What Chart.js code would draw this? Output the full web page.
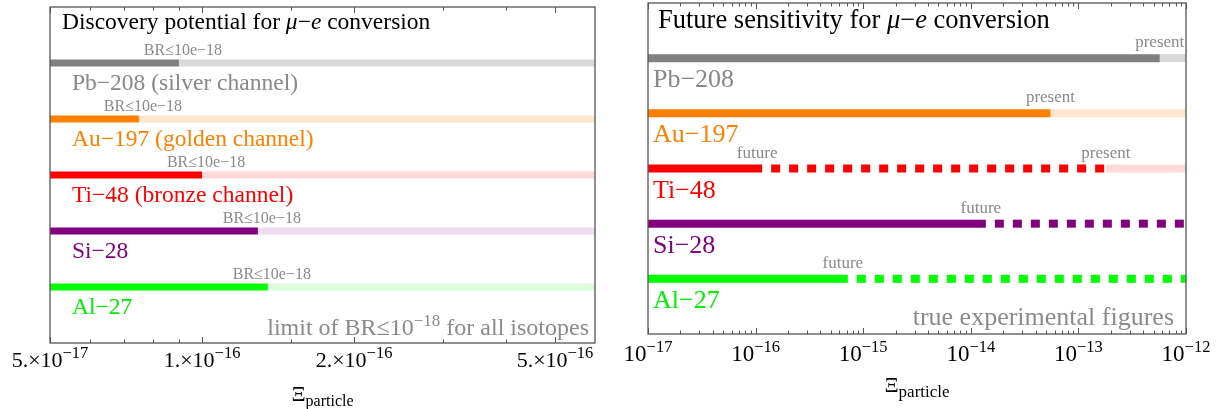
<!DOCTYPE html>
<html>
<head>
<meta charset="utf-8">
<script src="https://cdn.jsdelivr.net/npm/chart.js@4.4.1/dist/chart.umd.min.js"></script>
<style>
  body { margin: 0; background: #fff; }
  .panel { position: absolute; top: 0; width: 612px; height: 409px; }
</style>
</head>
<body>
<div class="panel" style="left:0"><canvas id="leftChart" width="612" height="409"></canvas></div>
<div class="panel" style="left:612px"><canvas id="rightChart" width="612" height="409"></canvas></div>
<script>
const isotopes = ["Pb−208", "Au−197", "Ti−48", "Si−28", "Al−27"];
const channels = [" (silver channel)", " (golden channel)", " (bronze channel)", "", ""];
const rows = [1, 2, 3, 4, 5];
const darkColors = ["#808080", "#ff8000", "#ff0000", "#800080", "#00ff00"];
const lightColors = ["#d9d9d9", "#ffe6cc", "#ffd9d9", "#f0dcf0", "#ddfcdd"];
const labelColors = ["#888888", "#ff8000", "#ff0000", "#800080", "#00ee00"];

// left panel: discovery potential for BR <= 1e-18
const discovery = [9.0e-17, 7.5e-17, 1.0e-16, 1.29e-16, 1.35e-16];
const leftRange = [5e-17, 6e-16];
const leftTicks = [5e-17, 1e-16, 2e-16, 5e-16];
const leftTickMantissa = ["5.×10", "1.×10", "2.×10", "5.×10"];
const leftTickExp = ["−17", "−16", "−16", "−16"];
const leftMinor = [6e-17, 7e-17, 8e-17, 9e-17, 1.5e-16, 3e-16, 4e-16];

// right panel: present limits and future sensitivity
const presentLimit = [5.7e-13, 5.5e-14, 1.8e-13, null, null];
const futureLimit = [null, null, 1.15e-16, 1.38e-14, 7.2e-16];
const rightRange = [1e-17, 1e-12];
const rightTicks = [1e-17, 1e-16, 1e-15, 1e-14, 1e-13, 1e-12];
const rightTickExp = ["−17", "−16", "−15", "−14", "−13", "−12"];
const minorMantissa = [2, 3, 4, 5, 6, 7, 8, 9];
const rightMinor = rightTicks.slice(0, -1).flatMap(d => minorMantissa.map(m => m * d));

const serif = '"Liberation Serif", "Times New Roman", serif';
const font = (size, style) => (style || "") + " " + size + "px " + serif;
const gray = "#8a8a8a";

function seg(x0, x1, row, color, width, dashed, order) {
  return {
    data: [{x: x0, y: row}, {x: x1, y: row}],
    borderColor: color,
    borderWidth: width,
    borderDash: dashed ? [9, 9] : [],
    borderDashOffset: dashed ? 9 : 0,
    borderCapStyle: "butt",
    pointRadius: 0,
    tension: 0,
    fill: false,
    order: order
  };
}

function drawRuns(ctx, runs, x, y, align) {
  let w = 0;
  runs.forEach(r => { ctx.font = r.font; w += ctx.measureText(r.text).width; });
  let cx = align === "center" ? x - w / 2 : align === "right" ? x - w : x;
  ctx.textAlign = "left";
  ctx.textBaseline = "alphabetic";
  runs.forEach(r => {
    ctx.font = r.font;
    ctx.fillStyle = r.color || "#000";
    ctx.fillText(r.text, cx, y - (r.rise || 0));
    cx += ctx.measureText(r.text).width;
  });
}

function drawFrame(chart, major, minor) {
  const {ctx, chartArea: a, scales: {x}} = chart;
  ctx.save();
  ctx.strokeStyle = "#555";
  ctx.lineWidth = 1.3;
  ctx.strokeRect(a.left, a.top, a.right - a.left, a.bottom - a.top);
  ctx.lineWidth = 1;
  [[major, 6], [minor, 3.5]].forEach(([vals, len]) => {
    vals.forEach(v => {
      const px = Math.round(x.getPixelForValue(v)) + 0.5;
      ctx.beginPath();
      ctx.moveTo(px, a.bottom);
      ctx.lineTo(px, a.bottom - len);
      ctx.moveTo(px, a.top);
      ctx.lineTo(px, a.top + len);
      ctx.stroke();
    });
  });
  ctx.restore();
}

function titleRuns(first, size) {
  return [
    {text: first, font: font(size)},
    {text: "μ", font: font(size, "italic")},
    {text: "−", font: font(size)},
    {text: "e", font: font(size, "italic")},
    {text: " conversion", font: font(size)}
  ];
}

function axisTitle(ctx, cx, y, size, subSize) {
  drawRuns(ctx, [
    {text: "Ξ", font: font(size)},
    {text: "particle", font: font(subSize), rise: -5}
  ], cx, y, "center");
}

const leftDecor = {
  id: "leftDecor",
  afterDraw(chart) {
    const {ctx, chartArea: a, scales: {x, y}} = chart;
    drawFrame(chart, leftTicks, leftMinor);
    ctx.save();
    drawRuns(ctx, titleRuns("Discovery potential for ", 23.5), a.left + 12, 29, "left");
    rows.forEach((r, i) => {
      const py = y.getPixelForValue(r);
      drawRuns(ctx, [{text: "BR≤10e−18", font: font(16), color: gray}],
        x.getPixelForValue(discovery[i]) + 4, py - 8.5, "center");
      drawRuns(ctx, [{text: isotopes[i] + channels[i], font: font(23.5), color: labelColors[i]}],
        a.left + 22, py + 26.5, "left");
    });
    drawRuns(ctx, [
      {text: "limit of BR≤10", font: font(24), color: gray},
      {text: "−18", font: font(17), color: gray, rise: 9},
      {text: " for all isotopes", font: font(24), color: gray}
    ], a.right - 6, 335, "right");
    leftTicks.forEach((v, i) => {
      drawRuns(ctx, [
        {text: leftTickMantissa[i], font: font(22)},
        {text: leftTickExp[i], font: font(16.5), rise: 9}
      ], x.getPixelForValue(v), 367, "center");
    });
    axisTitle(ctx, (a.left + a.right) / 2, 401, 22, 16);
    ctx.restore();
  }
};

const rightDecor = {
  id: "rightDecor",
  afterDraw(chart) {
    const {ctx, chartArea: a, scales: {x, y}} = chart;
    drawFrame(chart, rightTicks, rightMinor);
    ctx.save();
    drawRuns(ctx, titleRuns("Future sensitivity for ", 26.5), a.left + 10, 28, "left");
    rows.forEach((r, i) => {
      const py = y.getPixelForValue(r);
      if (presentLimit[i] !== null) {
        drawRuns(ctx, [{text: "present", font: font(17), color: gray}],
          x.getPixelForValue(presentLimit[i]), py - 11, "center");
      }
      if (futureLimit[i] !== null) {
        drawRuns(ctx, [{text: "future", font: font(17), color: gray}],
          x.getPixelForValue(futureLimit[i]) - 5, py - 11, "center");
      }
      drawRuns(ctx, [{text: isotopes[i], font: font(26), color: labelColors[i]}],
        a.left + 5, py + 29, "left");
    });
    drawRuns(ctx, [{text: "true experimental figures", font: font(26), color: gray}],
      a.right - 12, 325, "right");
    rightTicks.forEach((v, i) => {
      drawRuns(ctx, [
        {text: "10", font: font(23)},
        {text: rightTickExp[i], font: font(16.5), rise: 9}
      ], x.getPixelForValue(v), 361, "center");
    });
    axisTitle(ctx, (a.left + a.right) / 2, 392, 22, 17);
    ctx.restore();
  }
};

function baseOptions(range, padding) {
  return {
    responsive: false,
    animation: false,
    events: [],
    layout: {padding: padding},
    scales: {
      x: {type: "logarithmic", min: range[0], max: range[1], display: false},
      y: {type: "linear", min: 0, max: 6, reverse: true, display: false}
    },
    plugins: {legend: {display: false}, tooltip: {enabled: false}}
  };
}

// left chart: light bar up to the axis end, dark bar up to the discovery reach
const leftSets = [];
rows.forEach((r, i) => {
  leftSets.push(seg(discovery[i], leftRange[1], r, lightColors[i], 7, false, 2));
  leftSets.push(seg(leftRange[0], discovery[i], r, darkColors[i], 7, false, 1));
});

new Chart(document.getElementById("leftChart"), {
  type: "line",
  data: {datasets: leftSets},
  options: baseOptions(leftRange, {left: 50, right: 17, top: 7, bottom: 66}),
  plugins: [leftDecor]
});

// right chart: solid to present/future, dotted from future to present (or axis end)
const rightSets = [];
rows.forEach((r, i) => {
  const present = presentLimit[i];
  const future = futureLimit[i];
  if (present !== null) {
    rightSets.push(seg(present, rightRange[1], r, lightColors[i], 8, false, 2));
  }
  if (future !== null) {
    rightSets.push(seg(rightRange[0], future, r, darkColors[i], 8, false, 1));
    rightSets.push(seg(future, present !== null ? present : rightRange[1], r, darkColors[i], 8, true, 1));
  } else {
    rightSets.push(seg(rightRange[0], present, r, darkColors[i], 8, false, 1));
  }
});

new Chart(document.getElementById("rightChart"), {
  type: "line",
  data: {datasets: rightSets},
  options: baseOptions(rightRange, {left: 36, right: 38, top: 3, bottom: 75}),
  plugins: [rightDecor]
});
</script>
</body>
</html>
